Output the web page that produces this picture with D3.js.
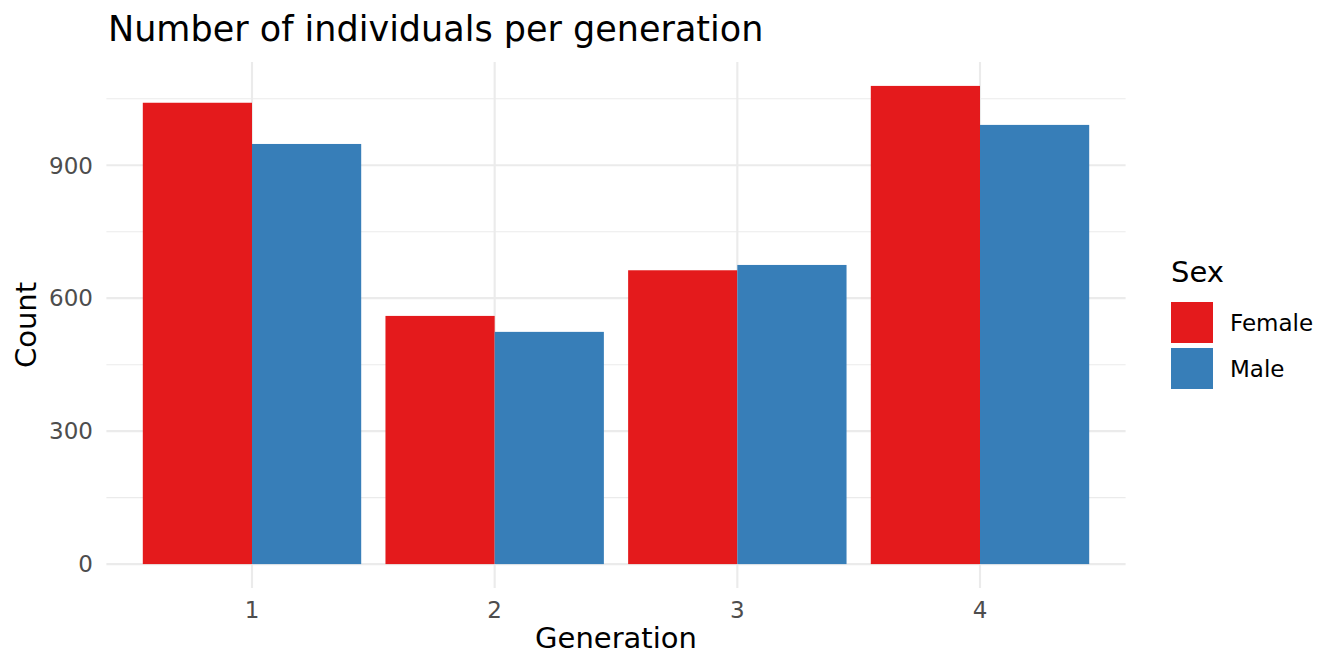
<!DOCTYPE html>
<html><head><meta charset="utf-8">
<script src="https://cdn.jsdelivr.net/npm/d3@7"></script>
<style>body{margin:0;background:#fff}svg{display:block}text{font-family:"DejaVu Sans",sans-serif}</style>
</head><body>
<svg id="c" width="1344" height="672"></svg>
<script>
const generations = ["1","2","3","4"];
const sexes = ["Female","Male"];
const female = [1041, 560, 663, 1079];
const male = [948, 524, 675, 991];
const yTicks = [0,300,600,900];
const yMinor = [150,450,750,1050];
const colors = ["#E41A1C","#377EB8"];

const svg = d3.select("#c");
const L=106.4, R=1125.6, T=62, B=588;
const maxV = d3.max(female.concat(male));
const y = d3.scaleLinear().domain([-maxV*0.05, maxV*1.05]).range([B,T]);
const xc = d3.scaleLinear().domain([0.4,4.6]).range([L,R]);
const step = xc(2)-xc(1);
const bw = step*0.9;

const g = svg.append("g");
g.selectAll(".ymin").data(yMinor).join("line")
 .attr("x1",L).attr("x2",R).attr("y1",d=>y(d)).attr("y2",d=>y(d))
 .attr("stroke","#ebebeb").attr("stroke-width",1.07);
g.selectAll(".ymaj").data(yTicks).join("line")
 .attr("x1",L).attr("x2",R).attr("y1",d=>y(d)).attr("y2",d=>y(d))
 .attr("stroke","#ebebeb").attr("stroke-width",2.13);
g.selectAll(".xmaj").data(generations).join("line")
 .attr("x1",(d,i)=>xc(i+1)).attr("x2",(d,i)=>xc(i+1)).attr("y1",T).attr("y2",B)
 .attr("stroke","#ebebeb").attr("stroke-width",2.13);

const series = [female, male];
series.forEach((vals,s)=>{
  g.selectAll(".b"+s).data(vals).join("rect")
   .attr("x",(d,i)=>xc(i+1)-bw/2 + s*bw/2)
   .attr("width",bw/2)
   .attr("y",d=>y(d)).attr("height",d=>y(0)-y(d))
   .attr("fill",colors[s]);
});

g.selectAll(".yt").data(yTicks).join("text")
 .attr("x",93).attr("y",d=>y(d)).attr("dy","0.36em").attr("text-anchor","end")
 .attr("font-size",23).attr("fill","#4d4d4d").text(d=>d);
g.selectAll(".xt").data(generations).join("text")
 .attr("x",(d,i)=>xc(i+1)).attr("y",618).attr("text-anchor","middle")
 .attr("font-size",23).attr("fill","#4d4d4d").text(d=>d);

svg.append("text").attr("x",xc(2.5)).attr("y",648).attr("text-anchor","middle")
 .attr("font-size",29).attr("fill","#000").text("Generation");
svg.append("text").attr("transform",`translate(36,${(T+B)/2}) rotate(-90)`).attr("text-anchor","middle")
 .attr("font-size",29).attr("fill","#000").text("Count");
svg.append("text").attr("x",108).attr("y",41).attr("font-size",35).attr("fill","#000")
 .text("Number of individuals per generation");

const lg = svg.append("g");
lg.append("text").attr("x",1171).attr("y",282).attr("font-size",29).text("Sex");
sexes.forEach((s,i)=>{
  lg.append("rect").attr("x",1171).attr("y",302+i*46).attr("width",42).attr("height",41).attr("fill",colors[i]);
  lg.append("text").attr("x",1230).attr("y",323+i*46).attr("dy","0.36em").attr("font-size",23).attr("fill","#000").text(s);
});
</script>
</body></html>
